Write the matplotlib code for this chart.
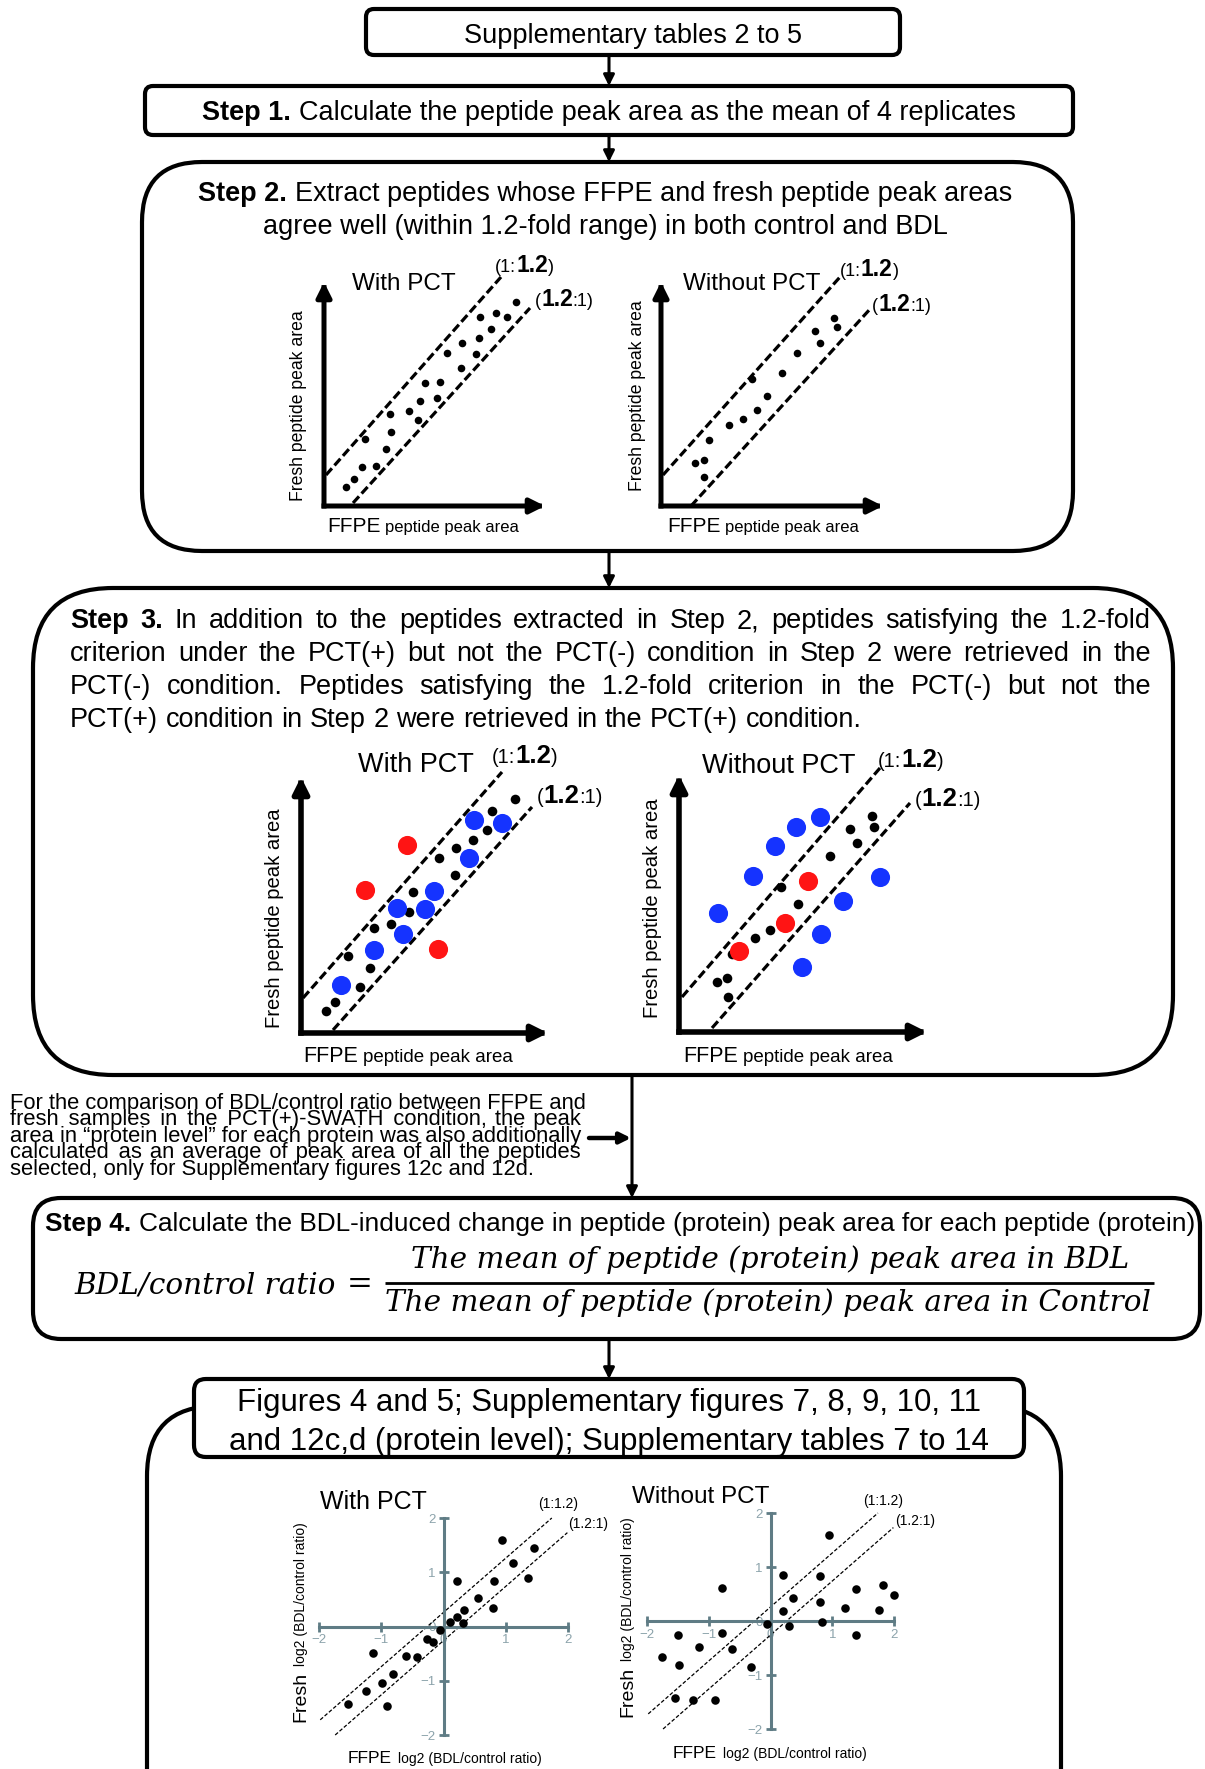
import matplotlib
matplotlib.use("Agg")
import matplotlib.pyplot as plt
from matplotlib.patches import FancyBboxPatch

plt.rcParams['font.family'] = ['Liberation Sans', 'DejaVu Sans']

# ---------------- data (schematic units / log2 ratios) ----
# step 2 schematics
s2_with_x = [192, 172, 156, 183, 167, 155, 138, 123, 152, 137, 116, 101, 96, 113, 85, 66, 94, 67, 41, 62, 38, 52, 30, 22]
s2_with_y = [204, 193, 189, 189, 177, 168, 163, 153, 152, 138, 124, 123, 105, 108, 95, 92, 86, 74, 67, 57, 39, 40, 27, 19]
s2_with_upper = ([2, 177], [31, 229])
s2_with_lower = ([29, 206], [3, 198])

s2_wo_x = [173, 176, 154, 159, 136, 121, 91, 106, 96, 82, 68, 48, 34, 43, 43]
s2_wo_y = [188, 179, 175, 163, 153, 133, 127, 110, 96, 87, 81, 66, 43, 46, 29]
s2_wo_upper = ([2, 179], [31, 229])
s2_wo_lower = ([30, 210], [0, 198])

# step 3 schematics
s3_with_black_x = [214, 191, 186, 172, 155, 138, 154, 112, 108, 90, 73, 47, 69, 59, 34, 25]
s3_with_black_y = [234, 222, 203, 193, 185, 175, 158, 141, 121, 109, 105, 77, 65, 46, 31, 22]
s3_with_blue_x = [173, 201, 168, 133, 96, 124, 102, 73, 40]
s3_with_blue_y = [213, 210, 175, 142, 125, 124, 99, 83, 48]
s3_with_red_x = [106, 64, 137]
s3_with_red_y = [188, 143, 84]
s3_with_upper = ([2, 201], [35, 261])
s3_with_lower = ([32, 231], [3, 226])

s3_wo_black_x = [193, 195, 171, 178, 151, 102, 119, 91, 76, 53, 38, 48, 49]
s3_wo_black_y = [216, 205, 203, 189, 176, 145, 128, 102, 94, 78, 50, 54, 35]
s3_wo_blue_x = [141, 117, 96, 74, 201, 164, 39, 142, 123]
s3_wo_blue_y = [215, 205, 186, 156, 155, 131, 119, 98, 65]
s3_wo_red_x = [129, 106, 60]
s3_wo_red_y = [151, 109, 81]
s3_wo_upper = ([3, 201], [35, 264])
s3_wo_lower = ([33, 231], [4, 229])

# final log2(BDL/control) scatter plots
fin_with_x = [0.94, 1.45, 1.12, 1.35, 0.21, 0.81, 0.55, 0.80, 0.33, 0.21, 0.31, 0.11, -0.06, -0.27, -0.17,
              -1.14, -0.61, -0.42, -0.81, -0.98, -1.24, -1.53, -0.90]
fin_with_y = [1.60, 1.44, 1.17, 0.90, 0.84, 0.83, 0.53, 0.35, 0.31, 0.18, 0.06, 0.09, -0.07, -0.23, -0.28,
              -0.49, -0.54, -0.57, -0.87, -1.05, -1.18, -1.43, -1.46]
fin_wo_x = [0.95, 0.20, 0.80, -0.78, 1.38, 1.82, 2.00, 0.36, 0.80, 1.20, 1.75, 0.20, -0.06, 0.30, 0.84,
            -1.49, -0.79, 1.38, -1.16, -0.62, -1.75, -1.48, -0.32, -1.55, -1.25, -0.90]
fin_wo_y = [1.60, 0.85, 0.83, 0.62, 0.60, 0.66, 0.49, 0.42, 0.36, 0.24, 0.21, 0.19, -0.06, -0.10, -0.01,
            -0.25, -0.22, -0.26, -0.49, -0.52, -0.67, -0.81, -0.85, -1.43, -1.46, -1.46]
fin_upper = ([-1.98, 1.74], [-1.72, 2.0])
fin_lower = ([-1.74, 1.99], [-2.0, 1.73])
fin_ticks = [-2, -1, 0, 1, 2]

# texts
step3_lines = [
    "Step 3. In addition to the peptides extracted in Step 2, peptides satisfying the 1.2-fold",
    "criterion under the PCT(+) but not the PCT(-) condition in Step 2 were retrieved in the",
    "PCT(-) condition. Peptides satisfying the 1.2-fold criterion in the PCT(-) but not the",
    "PCT(+) condition in Step 2 were retrieved in the PCT(+) condition.",
]
note_lines = [
    "For the comparison of BDL/control ratio between FFPE and",
    "fresh samples in the PCT(+)-SWATH condition, the peak",
    "area in \u201cprotein level\u201d for each protein was also additionally",
    "calculated as an average of peak area of all the peptides",
    "selected, only for Supplementary figures 12c and 12d.",
]

BLUE = '#1533ff'
RED = '#ff1414'
AXC = '#5f7c85'
TLC = '#8ca3ab'

# ---------------- figure -------------------------------------------------------
W, H = 1205, 1769
fig = plt.figure(figsize=(W / 100, H / 100), dpi=100)
bg = fig.add_axes([0, 0, 1, 1])
bg.set_xlim(0, W)
bg.set_ylim(H, 0)
bg.axis('off')
R = fig.canvas.get_renderer()


def sp(size):
    # width of a space in pixels for an Arial-like font
    return 0.278 * size * 100 / 72.0


def box(x, y, w, h, r, lw=3.0):
    bg.add_patch(FancyBboxPatch((x, y), w, h, boxstyle="round,pad=0,rounding_size=%g" % r,
                                fc='white', ec='black', lw=lw))


def down_arrow(x, y0, y1, ms=16, lw=2.2):
    bg.annotate('', xy=(x, y1), xytext=(x, y0), annotation_clip=False,
                arrowprops=dict(arrowstyle='-|>', color='k', lw=lw, mutation_scale=ms,
                                shrinkA=0, shrinkB=0))


def extent(t):
    bb = t.get_window_extent(R)
    return bb.width if t.get_rotation() == 0 else bb.height


def text_width(s, size):
    t = bg.text(0, 0, s, fontsize=size)
    w = extent(t)
    t.remove()
    return w


def rich(x, y, parts, ha='left', rot=0, gap=0.0):
    objs = [bg.text(x, y, s, rotation=rot, rotation_mode='anchor', ha='left', va='baseline', **kw)
            for s, kw in parts]
    ws = [extent(o) for o in objs]
    total = sum(ws) + gap * (len(objs) - 1)
    pos = {'left': 0.0, 'center': -total / 2, 'right': -total}[ha]
    for o, w in zip(objs, ws):
        if rot == 0:
            o.set_x(x + pos)
        else:
            o.set_y(y - pos)
        pos += w + gap


def justify(line, y, x0, x1, size, last=False, nbold=0):
    words = line.split(' ')
    objs = [bg.text(x0, y, w, fontsize=size, va='baseline', ha='left',
                    fontweight='bold' if i < nbold else 'normal') for i, w in enumerate(words)]
    ws = [extent(o) for o in objs]
    gap = sp(size) if last else (x1 - x0 - sum(ws)) / (len(words) - 1)
    x = x0
    for o, w in zip(objs, ws):
        o.set_x(x)
        x += w + gap


def justify_block(lines, x0, x1, y_last, size, ls):
    # one text object; lines are padded with hair spaces to fill x0..x1
    # (y_last is the baseline of the last line)
    hs = '\u200a'
    hw = (text_width('a' + hs * 40 + 'a', size) - text_width('aa', size)) / 40
    out = []
    for i, line in enumerate(lines):
        words = line.split(' ')
        if i < len(lines) - 1:
            n = max(0, int(round((x1 - x0 - text_width(line, size)) / hw)))
            g = len(words) - 1
            line = words[0]
            for k, word in enumerate(words[1:]):
                line += ' ' + hs * (n // g + (1 if k < n % g else 0)) + word
        out.append(line)
    bg.text(x0, y_last, '\n'.join(out), fontsize=size, linespacing=ls, va='baseline', ha='left')


def ratio_label(x, y, big_first, small, big):
    S = dict(fontsize=small)
    B = dict(fontsize=big, fontweight='bold')
    if big_first:
        rich(x, y, [("(", S), ("1.2", B), (":1)", S)])
    else:
        rich(x, y, [("(1:", S), ("1.2", B), (")", S)])


def schematic(ox, oy, xtip, ytip, upper, lower, groups, alw=3.6, ams=22):
    m = 20
    ax = fig.add_axes([(ox - m) / W, 1 - (oy + m) / H, (xtip - ox + 2 * m) / W, (oy - ytip + 2 * m) / H])
    ax.set_xlim(-m, xtip - ox + m)
    ax.set_ylim(-m, oy - ytip + m)
    ax.axis('off')
    for lx, ly in (upper, lower):
        ax.plot(lx, ly, color='k', lw=2.3, dashes=(2.8, 1.2), solid_capstyle='butt')
    for xs, ys, c, s in groups:
        ax.scatter(xs, ys, s=s, c=c, linewidths=0, zorder=3, clip_on=False)
    for tip in ((xtip - ox, 0), (0, oy - ytip)):
        ax.annotate('', xy=tip, xytext=(0, 0), annotation_clip=False,
                    arrowprops=dict(arrowstyle='-|>', color='k', lw=alw, mutation_scale=ams,
                                    shrinkA=0, shrinkB=0, capstyle='projecting'))
    return ax


def final_panel(x0, x1, ytop, ybot, xs, ys):
    ax = fig.add_axes([x0 / W, 1 - ybot / H, (x1 - x0) / W, (ybot - ytop) / H])
    ax.set_xlim(-2, 2)
    ax.set_ylim(-2, 2)
    ax.patch.set_visible(False)
    for side in ('top', 'right'):
        ax.spines[side].set_visible(False)
    for side in ('left', 'bottom'):
        ax.spines[side].set_position('zero')
        ax.spines[side].set_color(AXC)
        ax.spines[side].set_linewidth(2.2)
    ax.set_xticks(fin_ticks)
    ax.set_yticks(fin_ticks)
    ax.tick_params(direction='inout', length=7, width=2, color=AXC, labelcolor=TLC, labelsize=9.5, pad=2)
    for lx, ly in (fin_upper, fin_lower):
        ax.plot(lx, ly, color='k', lw=0.9, dashes=(3, 1.6), clip_on=False)
    ax.scatter(xs, ys, s=38, c='k', linewidths=0, zorder=3, clip_on=False)
    return ax


# ---------------- boxes and flow arrows -----------------------------------------
box(366, 9, 534, 46, 8)
box(145, 86, 928, 49, 8)
box(142, 162, 931, 389, 60)
box(33, 588, 1140, 487, 80)
box(33, 1198, 1167, 141, 28)
box(147, 1406, 914, 500, 70)
box(194, 1379, 830, 78, 12)

down_arrow(609, 55, 86)
down_arrow(609, 135, 162)
down_arrow(609, 551, 588)
down_arrow(632, 1075, 1198)
down_arrow(609, 1339, 1379)
bg.annotate('', xy=(631, 1138), xytext=(589, 1138), annotation_clip=False,
            arrowprops=dict(arrowstyle='-|>', color='k', lw=3.2, mutation_scale=16, shrinkA=0, shrinkB=0))

MAIN = 19.5
N = dict(fontsize=MAIN)
Bd = dict(fontsize=MAIN, fontweight='bold')
bg.text(633, 43, "Supplementary tables 2 to 5", fontsize=MAIN, ha='center', va='baseline')
rich(609, 120, [("Step 1.", Bd), ("Calculate the peptide peak area as the mean of 4 replicates", N)],
     ha='center', gap=sp(MAIN))
rich(605, 201, [("Step 2.", Bd), ("Extract peptides whose FFPE and fresh peptide peak areas", N)],
     ha='center', gap=sp(MAIN))
bg.text(605, 234, "agree well (within 1.2-fold range) in both control and BDL", fontsize=MAIN,
        ha='center', va='baseline')

for i, (line, yb) in enumerate(zip(step3_lines, [628, 661, 694, 727])):
    justify(line, yb, 70, 1151, MAIN, last=(i == len(step3_lines) - 1), nbold=2 if i == 0 else 0)

justify_block(note_lines, 10, 580, 1175, 15.8, 0.72)

S4 = 18.9
rich(45, 1231, [("Step 4.", dict(fontsize=S4, fontweight='bold')),
                ("Calculate the BDL-induced change in peptide (protein) peak area for each peptide (protein)",
                 dict(fontsize=S4))], gap=sp(S4))

# formula
FF = dict(family='DejaVu Serif', style='italic', va='baseline')
den = bg.text(768, 1311, "The mean of peptide (protein) peak area in Control", ha='center', fontsize=20, **FF)
fsize = 20 * 765 / extent(den)
den.set_fontsize(fsize)
bg.text(770, 1268, "The mean of peptide (protein) peak area in BDL", ha='center', fontsize=fsize, **FF)
bg.text(336, 1293, "BDL/control ratio", ha='right', fontsize=fsize, **FF)
bg.text(360, 1293, "=", ha='center', fontsize=fsize * 1.05, family='DejaVu Serif', va='baseline')
bg.plot([385, 1154], [1283, 1283], color='k', lw=2.0, solid_capstyle='butt')

FIGS = 22.5
bg.text(609, 1411, "Figures 4 and 5; Supplementary figures 7, 8, 9, 10, 11", fontsize=FIGS,
        ha='center', va='baseline')
bg.text(609, 1450, "and 12c,d (protein level); Supplementary tables 7 to 14", fontsize=FIGS,
        ha='center', va='baseline')

# ---------------- step 2 schematics ----------------------------------------------
schematic(324, 506, 545, 282, s2_with_upper, s2_with_lower, [(s2_with_x, s2_with_y, 'k', 30)])
schematic(661, 506, 883, 282, s2_wo_upper, s2_wo_lower, [(s2_wo_x, s2_wo_y, 'k', 30)])
bg.text(352, 290, "With PCT", fontsize=17.5, va='baseline')
bg.text(683, 290, "Without PCT", fontsize=17.5, va='baseline')
ratio_label(495, 272, False, 13, 16.5)
ratio_label(535, 306, True, 13, 16.5)
ratio_label(840, 276, False, 13, 16.5)
ratio_label(872, 311, True, 13, 16.5)
for xb, yc in ((303, 406), (642, 396)):
    rich(xb, yc, [("Fresh peptide peak area", dict(fontsize=12.7))], ha='center', rot=90)
for xl in (327, 667):
    rich(xl, 532, [("FFPE", dict(fontsize=15)), ("peptide peak area", dict(fontsize=12))], gap=sp(12))

# ---------------- step 3 schematics ----------------------------------------------
schematic(301, 1033, 548, 777, s3_with_upper, s3_with_lower,
          [(s3_with_black_x, s3_with_black_y, 'k', 48),
           (s3_with_blue_x, s3_with_blue_y, BLUE, 190),
           (s3_with_red_x, s3_with_red_y, RED, 190)], alw=4.0, ams=24)
schematic(679, 1032, 927, 775, s3_wo_upper, s3_wo_lower,
          [(s3_wo_black_x, s3_wo_black_y, 'k', 48),
           (s3_wo_blue_x, s3_wo_blue_y, BLUE, 190),
           (s3_wo_red_x, s3_wo_red_y, RED, 190)], alw=4.0, ams=24)
bg.text(358, 772, "With PCT", fontsize=19.5, va='baseline')
bg.text(702, 773, "Without PCT", fontsize=19.5, va='baseline')
ratio_label(492, 763, False, 14.5, 18.5)
ratio_label(537, 803, True, 14.5, 18.5)
ratio_label(878, 767, False, 14.5, 18.5)
ratio_label(915, 806, True, 14.5, 18.5)
for xb, yc in ((280, 918), (658, 908)):
    rich(xb, yc, [("Fresh peptide peak area", dict(fontsize=14.6))], ha='center', rot=90)
for xl in (303, 683):
    rich(xl, 1062, [("FFPE", dict(fontsize=15.5)), ("peptide peak area", dict(fontsize=13.5))], gap=sp(13.5))

# ---------------- final scatter plots ----------------------------------------------
final_panel(319, 568, 1518, 1735, fin_with_x, fin_with_y)
final_panel(647, 894, 1513, 1729, fin_wo_x, fin_wo_y)
bg.text(320, 1509, "With PCT", fontsize=18, va='baseline')
bg.text(632, 1503, "Without PCT", fontsize=17.5, va='baseline')
bg.text(538, 1508, "(1:1.2)", fontsize=10, va='baseline')
bg.text(568, 1528, "(1.2:1)", fontsize=10, va='baseline')
bg.text(863, 1505, "(1:1.2)", fontsize=10, va='baseline')
bg.text(895, 1525, "(1.2:1)", fontsize=10, va='baseline')
for xb, yb in ((305, 1722), (632, 1717)):
    rich(xb, yb, [("Fresh", dict(fontsize=14)), ("log2 (BDL/control ratio)", dict(fontsize=10))],
         rot=90, gap=6)
for xl, yb in ((348, 1763), (673, 1758)):
    rich(xl, yb, [("FFPE", dict(fontsize=12.5)), ("log2 (BDL/control ratio)", dict(fontsize=10))], gap=6)

fig.savefig("out.png", dpi=100)
